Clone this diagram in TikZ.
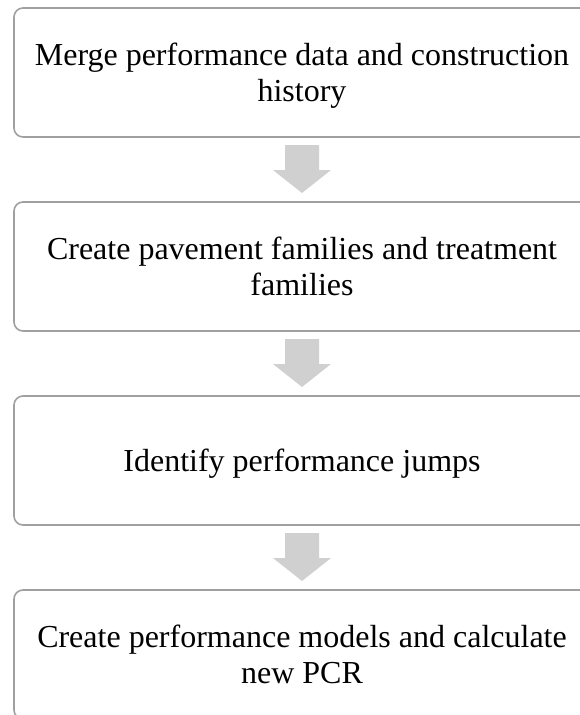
\documentclass[tikz,border=0pt]{standalone}
\usepackage{fontspec}
\setmainfont{Liberation Serif}
\definecolor{boxline}{RGB}{160,160,160}
\definecolor{arrowfill}{RGB}{208,208,208}
\newcommand\ls{\rule[-6.8pt]{0pt}{35pt}}
\tikzset{blockarrow/.style={fill=arrowfill}}
\begin{document}
\begin{tikzpicture}[x=1pt,y=-1pt]
        \useasboundingbox (0,0) rectangle (580,715);
        \clip (0,0) rectangle (580,715);

        \begin{scope}[every node/.style={draw=boxline, line width=1.6pt, rounded corners=9pt,
            minimum width=576pt, minimum height=129pt, align=center,
            font=\fontsize{32}{35}\selectfont}]
          \node (1) at (302,72.5)  {\ls Merge performance data and construction\\\ls history};
          \node (2) at (302,266.5) {\ls Create pavement families and treatment\\\ls families};
          \node (3) at (302,460.5) {\ls Identify performance jumps};
          \node (4) at (302,654.5) {\ls Create performance models and calculate\\\ls new PCR};
        \end{scope}

        % arrows halfway between the boxes
        \path (1) -- coordinate (a1) (2);
        \path (2) -- coordinate (a2) (3);
        \path (3) -- coordinate (a3) (4);

        \fill[blockarrow, shift={(a1)}] (-17,-24.5) -- (17,-24.5) -- (17,0.5) -- (29,0.5) -- (0,23.5) -- (-29,0.5) -- (-17,0.5) -- cycle;
        \fill[blockarrow, shift={(a2)}] (-17,-24.5) -- (17,-24.5) -- (17,0.5) -- (29,0.5) -- (0,23.5) -- (-29,0.5) -- (-17,0.5) -- cycle;
        \fill[blockarrow, shift={(a3)}] (-17,-24.5) -- (17,-24.5) -- (17,0.5) -- (29,0.5) -- (0,23.5) -- (-29,0.5) -- (-17,0.5) -- cycle;

      \end{tikzpicture}
\end{document}
